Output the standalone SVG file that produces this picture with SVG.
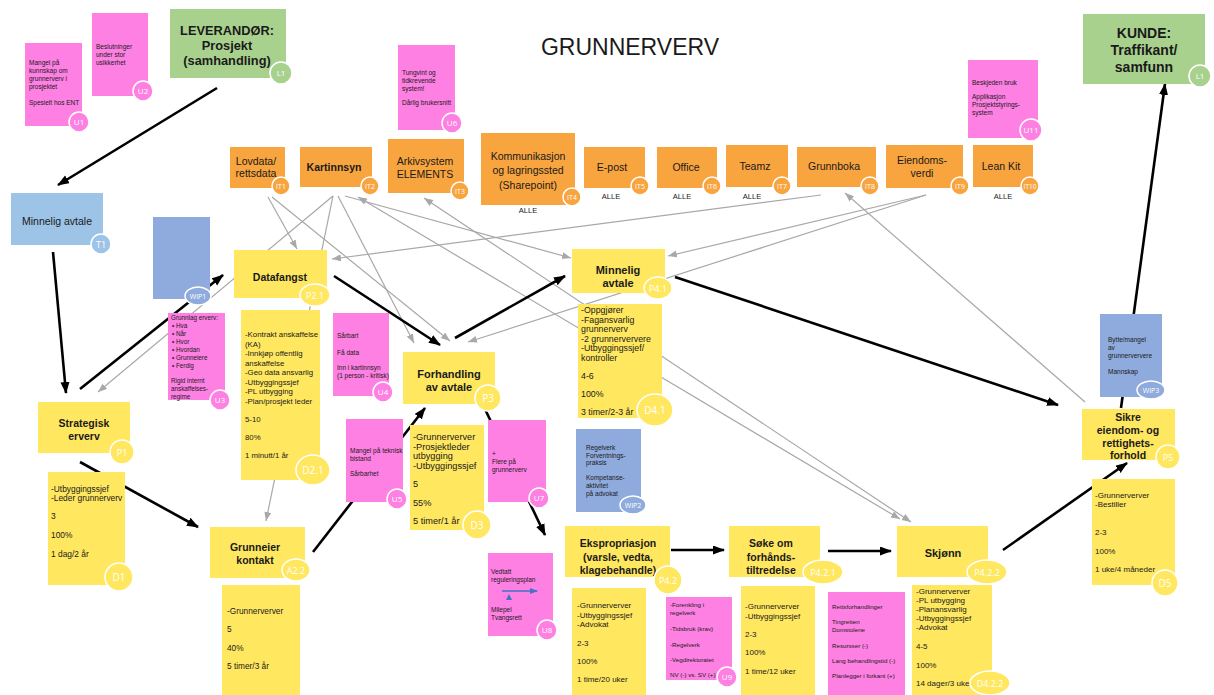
<svg xmlns="http://www.w3.org/2000/svg" width="1214" height="695" viewBox="0 0 1214 695">
<style>
  text { font-family: "Liberation Sans", Arial, sans-serif; fill: #1a1a1a; }
  .y { fill: #ffe760; }
  .p { fill: #fd80e2; }
  .o { fill: #f8a43f; }
  .g { fill: #a9d18e; }
  .b { fill: #9dc3e6; }
  .w { fill: #8faadc; }
  .tag { stroke: #ffffff; stroke-width: 1.5; }
  .tl { fill: #ffffff; text-anchor: middle; font-family: "Open Sans", "Liberation Sans", sans-serif; }
  .hd { font-weight: bold; text-anchor: middle; font-size: 10.5px; }
  .ct { text-anchor: middle; }
  .s6 { font-size: 6.5px; }
  .s8 { font-size: 8px; }
  .blk { stroke: #000; stroke-width: 2.6; fill: none; }
  .gry { stroke: #a8a8a8; stroke-width: 1.2; fill: none; }
</style>
<defs>
  <marker id="ab" markerUnits="userSpaceOnUse" markerWidth="12" markerHeight="10" refX="11" refY="4.5" orient="auto">
    <path d="M0,0 L12,4.5 L0,9 z" fill="#000"/>
  </marker>
  <marker id="ag" markerUnits="userSpaceOnUse" markerWidth="10" markerHeight="8" refX="9" refY="3.5" orient="auto">
    <path d="M0,0 L9,3.5 L0,7 z" fill="#a8a8a8"/>
  </marker>
  <marker id="ags" markerUnits="userSpaceOnUse" markerWidth="10" markerHeight="8" refX="0" refY="3.5" orient="auto">
    <path d="M9,0 L0,3.5 L9,7 z" fill="#a8a8a8"/>
  </marker>
  <marker id="abl" markerUnits="userSpaceOnUse" markerWidth="8" markerHeight="7" refX="7" refY="3" orient="auto">
    <path d="M0,0 L8,3 L0,6 z" fill="#4472c4"/>
  </marker>
</defs>

<rect width="1214" height="695" fill="#ffffff"/>

<text x="630" y="55" font-size="23" class="ct" fill="#222">GRUNNERVERV</text>

<!-- connectors -->
<g id="connectors">
  <!-- system links (grey) -->
  <line class="gry" x1="268" y1="197" x2="297" y2="249" marker-end="url(#ag)"/>
  <line class="gry" x1="333" y1="196" x2="98" y2="392" marker-end="url(#ag)"/>
  <line class="gry" x1="333" y1="196" x2="266" y2="521" marker-end="url(#ag)"/>
  <line class="gry" x1="338" y1="196" x2="414" y2="343" marker-end="url(#ag)"/>
  <line class="gry" x1="272" y1="197" x2="450" y2="341" marker-end="url(#ag)"/>
  <line class="gry" x1="345" y1="196" x2="571" y2="258" marker-end="url(#ag)"/>
  <line class="gry" x1="821" y1="195" x2="332" y2="259" marker-end="url(#ag)"/>
  <line class="gry" x1="926" y1="195" x2="468" y2="342" marker-end="url(#ag)"/>
  <line class="gry" x1="926" y1="195" x2="668" y2="256" marker-end="url(#ag)"/>
  <line class="gry" x1="358" y1="197" x2="900" y2="519" marker-start="url(#ags)" marker-end="url(#ag)"/>
  <line class="gry" x1="424" y1="198" x2="911" y2="522" marker-start="url(#ags)" marker-end="url(#ag)"/>
  <line class="gry" x1="1085" y1="402" x2="845" y2="193" marker-end="url(#ag)"/>
  <!-- process flow (black) -->
  <line class="blk" x1="217" y1="88" x2="58" y2="185" marker-end="url(#ab)"/>
  <line class="blk" x1="53" y1="252" x2="66" y2="393" marker-end="url(#ab)"/>
  <line class="blk" x1="80" y1="389" x2="223" y2="275" marker-end="url(#ab)"/>
  <line class="blk" x1="80" y1="462" x2="198" y2="527" marker-end="url(#ab)"/>
  <line class="blk" x1="313" y1="552" x2="425" y2="408" marker-end="url(#ab)"/>
  <line class="blk" x1="334" y1="276" x2="440" y2="345" marker-end="url(#ab)"/>
  <line class="blk" x1="455" y1="338" x2="565" y2="276" marker-end="url(#ab)"/>
  <line class="blk" x1="484" y1="407" x2="545" y2="535" marker-end="url(#ab)"/>
  <line class="blk" x1="675" y1="277" x2="1058" y2="405" marker-end="url(#ab)"/>
  <line class="blk" x1="671" y1="550" x2="724" y2="550" marker-end="url(#ab)"/>
  <line class="blk" x1="828" y1="551" x2="891" y2="551" marker-end="url(#ab)"/>
  <line class="blk" x1="1003" y1="550" x2="1127" y2="463" marker-end="url(#ab)"/>
  <line class="blk" x1="1121" y1="408" x2="1165" y2="84" marker-end="url(#ab)"/>
</g>

<!-- pain points / notes top left -->
<g id="U1">
  <rect class="p" x="25" y="43" width="57" height="83"/>
  <text class="s6"><tspan x="29" y="65">Mangel på</tspan><tspan x="29" y="73">kunnskap om</tspan><tspan x="29" y="81">grunnerverv i</tspan><tspan x="29" y="89">prosjektet</tspan><tspan x="29" y="105">Spesielt hos ENT</tspan></text>
  <circle class="p tag" cx="79" cy="122" r="10"/>
  <text class="tl" x="79" y="125" font-size="8">U1</text>
</g>
<g id="U2">
  <rect class="p" x="92" y="13" width="56" height="83"/>
  <text class="s6"><tspan x="96" y="49">Beslutninger</tspan><tspan x="96" y="57">under stor</tspan><tspan x="96" y="65">usikkerhet</tspan></text>
  <circle class="p tag" cx="143" cy="91" r="10"/>
  <text class="tl" x="143" y="94" font-size="8">U2</text>
</g>
<g id="L1-leverandor">
  <rect class="g" x="170" y="9" width="116" height="69"/>
  <text class="hd" style="font-size:12.8px"><tspan x="227" y="35">LEVERANDØR:</tspan><tspan x="227" y="50">Prosjekt</tspan><tspan x="227" y="65">(samhandling)</tspan></text>
  <circle class="g tag" cx="281" cy="73" r="11"/>
  <text class="tl" x="281" y="76" font-size="8">L1</text>
</g>
<g id="U6">
  <rect class="p" x="398" y="45" width="57" height="85"/>
  <text class="s6"><tspan x="402" y="75">Tungvint og</tspan><tspan x="402" y="83">tidkrevende</tspan><tspan x="402" y="91">system!</tspan><tspan x="402" y="105">Dårlig brukersnitt</tspan></text>
  <circle class="p tag" cx="452" cy="123" r="10"/>
  <text class="tl" x="452" y="126" font-size="8">U6</text>
</g>
<g id="U11">
  <rect class="p" x="968" y="60" width="70" height="78"/>
  <text class="s6"><tspan x="972" y="85">Beskjeden bruk</tspan><tspan x="972" y="99">Applikasjon</tspan><tspan x="972" y="107">Prosjektstyrings-</tspan><tspan x="972" y="115">system</tspan></text>
  <circle class="p tag" cx="1031" cy="130" r="11"/>
  <text class="tl" x="1031" y="133" font-size="8">U11</text>
</g>
<g id="L1-kunde">
  <rect class="g" x="1083" y="14" width="122" height="70"/>
  <text class="hd" style="font-size:14px"><tspan x="1144" y="38">KUNDE:</tspan><tspan x="1144" y="55">Traffikant/</tspan><tspan x="1144" y="72">samfunn</tspan></text>
  <circle class="g tag" cx="1200" cy="76" r="11"/>
  <text class="tl" x="1200" y="79" font-size="8">L1</text>
</g>

<!-- IT systems -->
<g id="IT1">
  <rect class="o" x="230" y="147" width="55" height="41"/>
  <text class="ct" font-size="10.5"><tspan x="256" y="165">Lovdata/</tspan><tspan x="256" y="177">rettsdata</tspan></text>
  <circle class="o tag" cx="281" cy="186" r="9"/>
  <text class="tl" x="281" y="188.5" font-size="7">IT1</text>
</g>
<g id="IT2">
  <rect class="o" x="300" y="147" width="72" height="40"/>
  <text class="hd" x="334" y="171">Kartinnsyn</text>
  <circle class="o tag" cx="370" cy="186" r="9"/>
  <text class="tl" x="370" y="188.5" font-size="7">IT2</text>
</g>
<g id="IT3">
  <rect class="o" x="388" y="139" width="76" height="54"/>
  <text class="ct" font-size="10.5"><tspan x="425" y="165">Arkivsystem</tspan><tspan x="425" y="178">ELEMENTS</tspan></text>
  <circle class="o tag" cx="460" cy="191" r="9"/>
  <text class="tl" x="460" y="193.5" font-size="7">IT3</text>
</g>
<g id="IT4">
  <rect class="o" x="481" y="133" width="94" height="72"/>
  <text class="ct" font-size="10.5"><tspan x="528" y="160">Kommunikasjon</tspan><tspan x="528" y="174">og lagringssted</tspan><tspan x="528" y="189">(Sharepoint)</tspan></text>
  <circle class="o tag" cx="572" cy="197" r="9"/>
  <text class="tl" x="572" y="199.5" font-size="7">IT4</text>
  <text class="ct" x="528" y="213" font-size="7.5">ALLE</text>
</g>
<g id="IT5">
  <rect class="o" x="584" y="147" width="61" height="41"/>
  <text class="ct" x="612" y="171" font-size="10.5">E-post</text>
  <circle class="o tag" cx="640" cy="186" r="9"/>
  <text class="tl" x="640" y="188.5" font-size="7">IT5</text>
  <text class="ct" x="611" y="199" font-size="7.5">ALLE</text>
</g>
<g id="IT6">
  <rect class="o" x="657" y="147" width="60" height="41"/>
  <text class="ct" x="686" y="171" font-size="10.5">Office</text>
  <circle class="o tag" cx="712" cy="186" r="9"/>
  <text class="tl" x="712" y="188.5" font-size="7">IT6</text>
  <text class="ct" x="682" y="199" font-size="7.5">ALLE</text>
</g>
<g id="IT7">
  <rect class="o" x="726" y="145" width="62" height="42"/>
  <text class="ct" x="755" y="170" font-size="10.5">Teamz</text>
  <circle class="o tag" cx="782" cy="186" r="9"/>
  <text class="tl" x="782" y="188.5" font-size="7">IT7</text>
  <text class="ct" x="752" y="199" font-size="7.5">ALLE</text>
</g>
<g id="IT8">
  <rect class="o" x="797" y="147" width="79" height="40"/>
  <text class="ct" x="834" y="170" font-size="10.5">Grunnboka</text>
  <circle class="o tag" cx="870" cy="186" r="9"/>
  <text class="tl" x="870" y="188.5" font-size="7">IT8</text>
</g>
<g id="IT9">
  <rect class="o" x="886" y="145" width="77" height="43"/>
  <text class="ct" font-size="10.5"><tspan x="922" y="164">Eiendoms-</tspan><tspan x="922" y="177">verdi</tspan></text>
  <circle class="o tag" cx="960" cy="186" r="9"/>
  <text class="tl" x="960" y="188.5" font-size="7">IT9</text>
</g>
<g id="IT10">
  <rect class="o" x="973" y="145" width="60" height="42"/>
  <text class="ct" x="1001" y="170" font-size="10.5">Lean Kit</text>
  <circle class="o tag" cx="1030" cy="186" r="9"/>
  <text class="tl" x="1030" y="188.5" font-size="6.5">IT10</text>
  <text class="ct" x="1003" y="199" font-size="7.5">ALLE</text>
</g>

<!-- left column -->
<g id="T1">
  <rect class="b" x="11" y="193" width="92" height="52"/>
  <text class="ct" x="57" y="225" font-size="10.5">Minnelig avtale</text>
  <circle class="b tag" cx="101" cy="244" r="10"/>
  <text class="tl" x="101" y="247.5" font-size="9">T1</text>
</g>
<g id="WIP1">
  <rect class="w" x="153" y="217" width="57" height="82"/>
  <ellipse class="w tag" cx="198" cy="296" rx="13" ry="9"/>
  <text class="tl" x="198" y="298.5" font-size="7">WIP1</text>
</g>
<g id="U3">
  <rect class="p" x="168" y="313" width="57" height="87"/>
  <text style="font-size:6.3px"><tspan x="171" y="320">Grunnlag erverv:</tspan><tspan x="172" y="328">•  Hva</tspan><tspan x="172" y="336">•  Når</tspan><tspan x="172" y="344">•  Hvor</tspan><tspan x="172" y="352">•  Hvordan</tspan><tspan x="172" y="360">•  Grunneiere</tspan><tspan x="172" y="368">•  Ferdig</tspan><tspan x="171" y="383">Rigid internt</tspan><tspan x="171" y="391">anskaffelses-</tspan><tspan x="171" y="399">regime</tspan></text>
  <circle class="p tag" cx="220" cy="400" r="10"/>
  <text class="tl" x="220" y="403" font-size="8">U3</text>
</g>
<g id="P1">
  <rect class="y" x="38" y="402" width="92" height="51"/>
  <text class="hd"><tspan x="84" y="427">Strategisk</tspan><tspan x="84" y="440">erverv</tspan></text>
  <circle class="y tag" cx="122" cy="452" r="12"/>
  <text class="tl" x="122" y="455.5" font-size="9">P1</text>
</g>
<g id="D1">
  <rect class="y" x="48" y="472" width="77" height="113"/>
  <text font-size="8.4"><tspan x="51" y="492">-Utbyggingssjef</tspan><tspan x="51" y="501">-Leder grunnerverv</tspan><tspan x="51" y="519">3</tspan><tspan x="51" y="538">100%</tspan><tspan x="51" y="557">1 dag/2 år</tspan></text>
  <circle class="y tag" cx="119" cy="577" r="14"/>
  <text class="tl" x="119" y="581" font-size="10">D1</text>
</g>

<!-- data capture -->
<g id="P2-1">
  <rect class="y" x="234" y="250" width="93" height="48"/>
  <text class="hd" x="280" y="281">Datafangst</text>
  <ellipse class="y tag" cx="315" cy="295" rx="15" ry="11"/>
  <text class="tl" x="315" y="298.5" font-size="9">P2.1</text>
</g>
<g id="D2-1">
  <rect class="y" x="241" y="310" width="79" height="170"/>
  <text style="font-size:7.8px"><tspan x="245" y="337">-Kontrakt anskaffelse</tspan><tspan x="245" y="346.5">(KA)</tspan><tspan x="245" y="356">-Innkjøp offentlig</tspan><tspan x="245" y="365.5">anskaffelse</tspan><tspan x="245" y="375">-Geo data ansvarlig</tspan><tspan x="245" y="384.5">-Utbyggingssjef</tspan><tspan x="245" y="394">-PL utbygging</tspan><tspan x="245" y="403.5">-Plan/prosjekt leder</tspan><tspan x="245" y="422">5-10</tspan><tspan x="245" y="440">80%</tspan><tspan x="245" y="458">1 minutt/1 år</tspan></text>
  <ellipse class="y tag" cx="313" cy="470" rx="17" ry="15"/>
  <text class="tl" x="313" y="474" font-size="10">D2.1</text>
</g>
<g id="U4">
  <rect class="p" x="333" y="313" width="56" height="83"/>
  <text class="s6"><tspan x="337" y="338">Sårbart</tspan><tspan x="337" y="355">Få data</tspan><tspan x="337" y="370">Inn i kartinnsyn</tspan><tspan x="337" y="378">(1 person - kritisk)</tspan></text>
  <circle class="p tag" cx="383" cy="392" r="10"/>
  <text class="tl" x="383" y="395" font-size="8">U4</text>
</g>
<g id="A2-2">
  <rect class="y" x="210" y="527" width="95" height="51"/>
  <text class="hd"><tspan x="255" y="551">Grunneier</tspan><tspan x="255" y="564">kontakt</tspan></text>
  <ellipse class="y tag" cx="296" cy="570" rx="14" ry="11"/>
  <text class="tl" x="296" y="573.5" font-size="9">A2.2</text>
</g>
<g id="A2-2-data">
  <rect class="y" x="222" y="585" width="78" height="110"/>
  <text style="font-size:8.3px"><tspan x="227" y="614">-Grunnerverver</tspan><tspan x="227" y="632">5</tspan><tspan x="227" y="651">40%</tspan><tspan x="227" y="669">5 timer/3 år</tspan></text>
</g>

<!-- negotiation -->
<g id="P3">
  <rect class="y" x="403" y="352" width="92" height="52"/>
  <text class="hd" style="font-size:11px"><tspan x="449" y="378">Forhandling</tspan><tspan x="449" y="391">av avtale</tspan></text>
  <circle class="y tag" cx="488" cy="398" r="13"/>
  <text class="tl" x="488" y="402" font-size="10">P3</text>
</g>
<g id="U5">
  <rect class="p" x="346" y="419" width="57" height="83"/>
  <text class="s6"><tspan x="350" y="453">Mangel på teknisk</tspan><tspan x="350" y="461">bistand</tspan><tspan x="350" y="476">Sårbarhet</tspan></text>
  <circle class="p tag" cx="397" cy="499" r="10"/>
  <text class="tl" x="397" y="502" font-size="8">U5</text>
</g>
<g id="D3">
  <rect class="y" x="410" y="425" width="74" height="105"/>
  <text font-size="9.2"><tspan x="413" y="440">-Grunnerverver</tspan><tspan x="413" y="449.5">-Prosjektleder</tspan><tspan x="413" y="459">utbygging</tspan><tspan x="413" y="468.5">-Utbyggingssjef</tspan><tspan x="413" y="487">5</tspan><tspan x="413" y="506">55%</tspan><tspan x="413" y="524">5 timer/1 år</tspan></text>
  <circle class="y tag" cx="477" cy="525" r="14"/>
  <text class="tl" x="477" y="529" font-size="10">D3</text>
</g>
<g id="U7">
  <rect class="p" x="488" y="420" width="58" height="82"/>
  <text class="s6"><tspan x="492" y="456">+</tspan><tspan x="492" y="464">Flere på</tspan><tspan x="492" y="472">grunnerverv</tspan></text>
  <circle class="p tag" cx="539" cy="498" r="10"/>
  <text class="tl" x="539" y="501" font-size="8">U7</text>
</g>

<!-- amicable agreement -->
<g id="P4-1">
  <rect class="y" x="572" y="249" width="93" height="44"/>
  <text class="hd" style="font-size:11px"><tspan x="618" y="274">Minnelig</tspan><tspan x="618" y="287">avtale</tspan></text>
  <ellipse class="y tag" cx="658" cy="288" rx="14" ry="11"/>
  <text class="tl" x="658" y="291.5" font-size="9">P4.1</text>
</g>
<g id="D4-1">
  <rect class="y" x="578" y="304" width="84" height="114"/>
  <text font-size="8.8"><tspan x="581" y="313">-Oppgjører</tspan><tspan x="581" y="322.5">-Fagansvarlig</tspan><tspan x="581" y="332">grunnerverv</tspan><tspan x="581" y="341.5">-2 grunnerververe</tspan><tspan x="581" y="351">-Utbyggingssjef/</tspan><tspan x="581" y="360.5">kontroller</tspan><tspan x="581" y="379">4-6</tspan><tspan x="581" y="397">100%</tspan><tspan x="581" y="415">3 timer/2-3 år</tspan></text>
  <ellipse class="y tag" cx="655" cy="410" rx="18" ry="16"/>
  <text class="tl" x="655" y="414" font-size="10">D4.1</text>
</g>
<g id="WIP2">
  <rect class="w" x="576" y="429" width="65" height="83"/>
  <text class="s6"><tspan x="586" y="450">Regelverk</tspan><tspan x="586" y="457.5">Forventnings-</tspan><tspan x="586" y="465">praksis</tspan><tspan x="586" y="480">Kompetanse-</tspan><tspan x="586" y="488">aktivitet</tspan><tspan x="586" y="496">på advokat</tspan></text>
  <ellipse class="w tag" cx="633" cy="505" rx="13" ry="9"/>
  <text class="tl" x="633" y="507.5" font-size="7">WIP2</text>
</g>

<!-- expropriation track -->
<g id="U8">
  <rect class="p" x="488" y="553" width="65" height="83"/>
  <text class="s6"><tspan x="491" y="574">Vedtatt</tspan><tspan x="491" y="582">reguleringsplan</tspan></text>
  <line x1="502" y1="591" x2="537" y2="591" stroke="#4472c4" stroke-width="1.3" marker-end="url(#abl)"/>
  <path d="M506,600 L509,594 L512,600 z" fill="#4472c4"/>
  <text class="s6"><tspan x="491" y="612">Milepel</tspan><tspan x="491" y="620">Tvangsrett</tspan></text>
  <circle class="p tag" cx="547" cy="630" r="10"/>
  <text class="tl" x="547" y="633" font-size="8">U8</text>
</g>
<g id="P4-2">
  <rect class="y" x="565" y="526" width="105" height="51"/>
  <text class="hd"><tspan x="618" y="547">Ekspropriasjon</tspan><tspan x="618" y="560.5">(varsle, vedta,</tspan><tspan x="618" y="574">klagebehandle)</tspan></text>
  <circle class="y tag" cx="668" cy="580" r="14"/>
  <text class="tl" x="668" y="583.5" font-size="9">P4.2</text>
</g>
<g id="D4-2">
  <rect class="y" x="572" y="588" width="74" height="107"/>
  <text class="s8"><tspan x="577" y="608">-Grunnerverver</tspan><tspan x="577" y="617.5">-Utbyggingssjef</tspan><tspan x="577" y="627">-Advokat</tspan><tspan x="577" y="646">2-3</tspan><tspan x="577" y="664">100%</tspan><tspan x="577" y="682">1 time/20 uker</tspan></text>
</g>
<g id="U9">
  <rect class="p" x="666" y="597" width="66" height="83"/>
  <text style="font-size:6.2px"><tspan x="670" y="607">-Forenkling i</tspan><tspan x="670" y="615">regelverk</tspan><tspan x="670" y="631">-Tidsbruk (krav)</tspan><tspan x="670" y="647">-Regelverk</tspan><tspan x="670" y="662">-Vegdirektoratet</tspan><tspan x="670" y="677">NV (-) vs. SV (+)</tspan></text>
  <circle class="p tag" cx="727" cy="677" r="10"/>
  <text class="tl" x="727" y="680" font-size="8">U9</text>
</g>
<g id="P4-2-1">
  <rect class="y" x="729" y="526" width="91" height="51"/>
  <text class="hd"><tspan x="771" y="547">Søke om</tspan><tspan x="771" y="561">forhånds-</tspan><tspan x="771" y="574">tiltredelse</tspan></text>
  <ellipse class="y tag" cx="823" cy="572" rx="20" ry="12"/>
  <text class="tl" x="823" y="575.5" font-size="9">P4.2.1</text>
</g>
<g id="D4-2-1">
  <rect class="y" x="741" y="586" width="74" height="109"/>
  <text class="s8"><tspan x="745" y="609">-Grunnerverver</tspan><tspan x="745" y="618.5">-Utbyggingssjef</tspan><tspan x="745" y="637">2-3</tspan><tspan x="745" y="655">100%</tspan><tspan x="745" y="674">1 time/12 uker</tspan></text>
</g>
<g id="U-skjonn">
  <rect class="p" x="828" y="592" width="77" height="103"/>
  <text style="font-size:6.2px"><tspan x="832" y="609">Rettsforhandlinger</tspan><tspan x="832" y="624">Tingretten</tspan><tspan x="832" y="632">Domstolene</tspan><tspan x="832" y="648">Resursser (-)</tspan><tspan x="832" y="663">Lang behandlingstid (-)</tspan><tspan x="832" y="678">Planlegger i forkant (+)</tspan></text>
</g>
<g id="P4-2-2">
  <rect class="y" x="897" y="526" width="91" height="51"/>
  <text class="hd" x="943" y="557" style="font-size:11px">Skjønn</text>
  <ellipse class="y tag" cx="987" cy="572" rx="20" ry="12"/>
  <text class="tl" x="987" y="575.5" font-size="9">P4.2.2</text>
</g>
<g id="D4-2-2">
  <rect class="y" x="912" y="585" width="80" height="110"/>
  <text class="s8"><tspan x="916" y="594">-Grunnerverver</tspan><tspan x="916" y="603">-PL utbygging</tspan><tspan x="916" y="612">-Planansvarlig</tspan><tspan x="916" y="621">-Utbyggingssjef</tspan><tspan x="916" y="630">-Advokat</tspan><tspan x="916" y="649">4-5</tspan><tspan x="916" y="668">100%</tspan><tspan x="916" y="686">14 dager/3 uker</tspan></text>
  <ellipse class="y tag" cx="990" cy="683" rx="20" ry="12"/>
  <text class="tl" x="990" y="686.5" font-size="9">D4.2.2</text>
</g>

<!-- securing property -->
<g id="WIP3">
  <rect class="w" x="1100" y="314" width="62" height="83"/>
  <text class="s6"><tspan x="1108" y="342">Bytte/mangel</tspan><tspan x="1108" y="350">av</tspan><tspan x="1108" y="358">grunnerververe</tspan><tspan x="1108" y="374">Mannskap</tspan></text>
  <ellipse class="w tag" cx="1151" cy="390" rx="14" ry="9"/>
  <text class="tl" x="1151" y="392.5" font-size="7">WIP3</text>
</g>
<g id="P5">
  <rect class="y" x="1082" y="409" width="93" height="51"/>
  <text class="hd"><tspan x="1128" y="421">Sikre</tspan><tspan x="1128" y="434">eiendom- og</tspan><tspan x="1128" y="447">rettighets-</tspan><tspan x="1128" y="459">forhold</tspan></text>
  <circle class="y tag" cx="1168" cy="457" r="12"/>
  <text class="tl" x="1168" y="460.5" font-size="9">P5</text>
</g>
<g id="D5">
  <rect class="y" x="1092" y="479" width="83" height="106"/>
  <text font-size="8"><tspan x="1095" y="498">-Grunnerverver</tspan><tspan x="1095" y="507">-Bestiller</tspan><tspan x="1095" y="535">2-3</tspan><tspan x="1095" y="554">100%</tspan><tspan x="1095" y="572">1 uke/4 måneder</tspan></text>
  <circle class="y tag" cx="1165" cy="583" r="13"/>
  <text class="tl" x="1165" y="587" font-size="10">D5</text>
</g>
</svg>
